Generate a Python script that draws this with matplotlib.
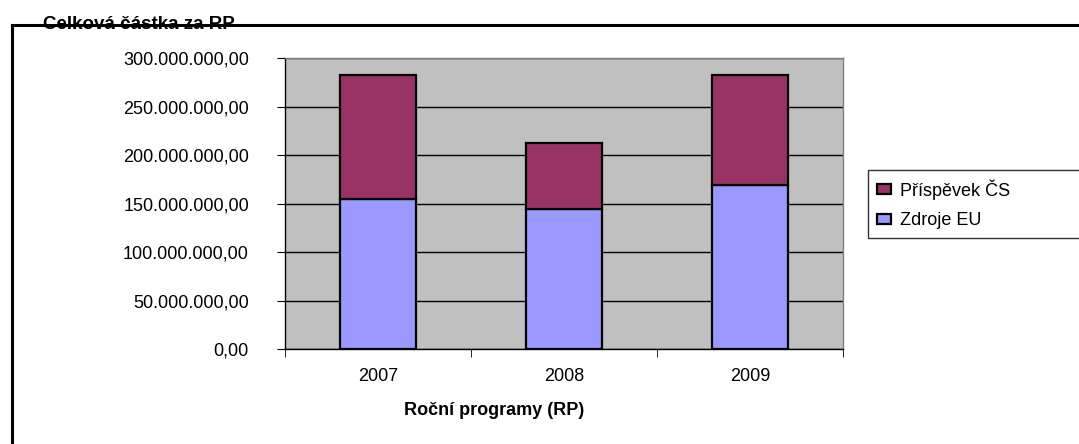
import matplotlib
matplotlib.use("Agg")
import matplotlib.pyplot as plt
from matplotlib.lines import Line2D
from matplotlib.ticker import FuncFormatter, MultipleLocator

plt.rcParams["font.family"] = ["Liberation Sans", "DejaVu Sans"]

years = ["2007", "2008", "2009"]
zdroje_eu = [155_000_000, 144_000_000, 169_000_000]
prispevek_cs = [127_000_000, 68_000_000, 113_000_000]
series_labels = ["Příspěvek ČS", "Zdroje EU"]


def czech_fmt(v, _pos):
    s = f"{v:,.2f}"
    return s.replace(",", " ").replace(".", ",").replace(" ", ".")


W, H = 1079, 444
fig = plt.figure(figsize=(W / 100, H / 100), dpi=100)
ax = fig.add_axes([285 / W, 1 - 349 / H, (843 - 285) / W, (349 - 58) / H])
ax.set_facecolor("#C0C0C0")

x = range(len(years))
b_eu = ax.bar(x, zdroje_eu, width=0.41, color="#9999FF", edgecolor="black", linewidth=1.6, zorder=3)
b_cs = ax.bar(x, prispevek_cs, width=0.41, bottom=zdroje_eu, color="#993366",
              edgecolor="black", linewidth=1.6, zorder=3)

ax.set_xlim(-0.5, 2.5)
ax.set_ylim(0, 300_000_000)
ax.yaxis.set_major_locator(MultipleLocator(50_000_000))
ax.yaxis.set_major_formatter(FuncFormatter(czech_fmt))
ax.grid(axis="y", color="black", linewidth=1, zorder=1)

ax.set_xticks(list(x))
ax.set_xticklabels(years)
ax.set_xticks([-0.5, 0.5, 1.5, 2.5], minor=True)
ax.tick_params(axis="x", which="major", length=0, pad=14, labelsize=13)
ax.tick_params(axis="x", which="minor", length=6, direction="out", color="black")
ax.tick_params(axis="y", length=6, direction="out", pad=20, labelsize=13, color="black")

ax.spines["left"].set_color("black")
ax.spines["bottom"].set_color("black")
ax.spines["top"].set_color("#808080")
ax.spines["right"].set_color("#808080")
for sp in ax.spines.values():
    sp.set_linewidth(1)

fig.text(494 / W, 1 - 410 / H, "Roční programy (RP)", ha="center", va="center",
         fontsize=13, fontweight="bold")
# the title sits under the chart border line, which strikes through it
fig.text(43 / W, 1 - 29 / H, "Celková částka za RP", ha="left", va="baseline",
         fontsize=13.5, fontweight="bold", zorder=1)

# outer chart border (cut off at right and bottom)
fig.add_artist(Line2D([12 / W, 1.0], [1 - 25 / H, 1 - 25 / H], color="black", linewidth=2.2, zorder=5))
fig.add_artist(Line2D([12 / W, 12 / W], [1 - 25 / H, 0.0], color="black", linewidth=2.2, zorder=5))

leg = fig.legend([b_cs, b_eu], series_labels, loc="upper left",
                 bbox_to_anchor=(868 / W, 1 - 170 / H, 0.25, 0), mode="expand",
                 fontsize=13, frameon=True, fancybox=False, edgecolor="black",
                 handlelength=0.75, handleheight=0.5, handletextpad=0.5,
                 labelspacing=0.7, borderpad=0.5, borderaxespad=0)
leg.get_frame().set_linewidth(1)

fig.savefig("out.png", dpi=100)
